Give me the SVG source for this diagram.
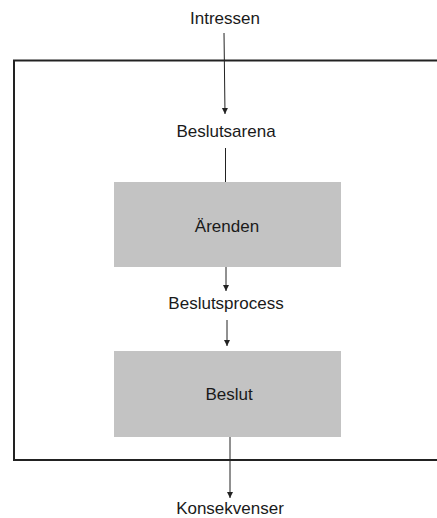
<svg xmlns="http://www.w3.org/2000/svg" width="437" height="518" viewBox="0 0 437 518">
<style>
text{font-family:"Liberation Sans",Arial,sans-serif;font-size:17px;fill:#1a1a1a;text-anchor:middle}
.box{fill:#c3c3c3}
.ln{stroke:#222;stroke-width:1;fill:none}
</style>
<defs>
<marker id="ah" viewBox="0 0 6 8" refX="6" refY="4" markerWidth="6" markerHeight="8" markerUnits="userSpaceOnUse" orient="auto">
<path d="M0,1 L6,4 L0,7 Z" fill="#222"/>
</marker>
</defs>
<rect id="frame" x="14" y="60.5" width="440" height="399.5" fill="none" stroke="#222" stroke-width="2"/>
<g id="intressen"><text x="225" y="24">Intressen</text></g>
<g id="beslutsarena"><text x="226" y="137">Beslutsarena</text></g>
<g id="arenden"><rect class="box" x="114" y="182" width="227" height="85"/><text x="227" y="232">Ärenden</text></g>
<g id="beslutsprocess"><text x="226" y="309">Beslutsprocess</text></g>
<g id="beslut"><rect class="box" x="114" y="351" width="227" height="86"/><text x="229" y="400">Beslut</text></g>
<g id="konsekvenser"><text x="230" y="514">Konsekvenser</text></g>
<g id="connectors">
<line class="ln" x1="224" y1="33" x2="225" y2="114" marker-end="url(#ah)"/>
<line class="ln" x1="225.5" y1="148" x2="225.5" y2="182"/>
<line class="ln" x1="226" y1="267" x2="226" y2="291" marker-end="url(#ah)"/>
<line class="ln" x1="227" y1="320" x2="227" y2="346" marker-end="url(#ah)"/>
<line class="ln" x1="230" y1="437" x2="230" y2="498" marker-end="url(#ah)"/>
</g>
</svg>
